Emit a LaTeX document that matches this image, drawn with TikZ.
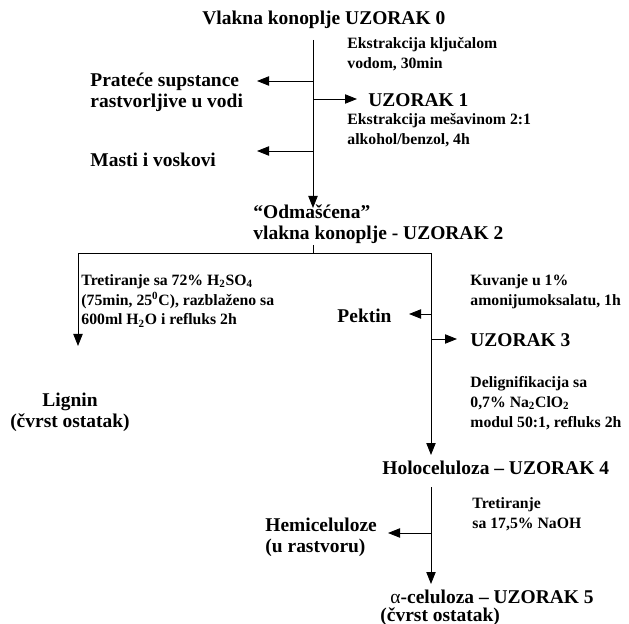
\documentclass[tikz,border=0pt]{standalone}
\usepackage{fontspec}
\setmainfont{Liberation Serif}
\usetikzlibrary{arrows.meta, positioning}

\tikzset{
  arr/.style={-{Triangle[length=9pt,width=7pt]}},
  big/.style={font=\fontsize{14.6}{15.5}\selectfont\bfseries, inner sep=0pt, align=left},
  note/.style={font=\fontsize{11.8}{14.8}\selectfont\bfseries, inner sep=0pt, align=left}
}

\begin{document}
\begin{tikzpicture}[x=0.75pt, y=-0.75pt, line width=0.65pt]
\useasboundingbox (0,0) rectangle (629,624);

% samples and products
\node[big, anchor=west] (uz0) at (202,20) {Vlakna konoplje UZORAK 0};
\node[note, anchor=west] (ex1) at (347,54) {Ekstrakcija ključalom\\vodom, 30min};
\node[big, anchor=west] (prat) at (90,92) {Prateće supstance\\rastvorljive u vodi};
\node[big, anchor=west] (uz1) at (368,100) {UZORAK 1};
\node[note, anchor=west] (ex2) at (347,130) {Ekstrakcija mešavinom 2:1\\alkohol/benzol, 4h};
\node[big, anchor=west] (masti) at (90,160) {Masti i voskovi};
\node[big, anchor=west] (uz2) at (253,224) {“Odmašćena”\\vlakna konoplje - UZORAK 2};
\node[note, anchor=west] (tr1) at (81,301) {Tretiranje sa 72\% H\textsubscript{2}SO\textsubscript{4}\\(75min, 25\textsuperscript{0}C), razblaženo sa\\600ml H\textsubscript{2}O i refluks 2h};
\node[big, align=center] (lignin) at (70,412) {Lignin\\(čvrst ostatak)};
\node[note, anchor=west] (kuv) at (470,292) {Kuvanje u 1\%\\amonijumoksalatu, 1h};
\node[big, anchor=east] (pektin) at (392,316) {Pektin};
\node[big, anchor=west] (uz3) at (470,340) {UZORAK 3};
\node[note, anchor=west] (delig) at (470,403) {Delignifikacija sa\\0,7\% Na\textsubscript{2}ClO\textsubscript{2}\\modul 50:1, refluks 2h};
\node[big, anchor=west] (uz4) at (382,468) {Holoceluloza – UZORAK 4};
\node[note, anchor=west] (tr2) at (472,514) {Tretiranje\\sa 17,5\% NaOH};
\node[big, anchor=west] (hemi) at (265,537) {Hemiceluloze\\(u rastvoru)};
\node[big, anchor=west, font=\fontsize{14.6}{13.5}\selectfont\bfseries] (uz5) at (380,608)
  {\hspace*{7.5pt}{\mdseries α}-celuloza – UZORAK 5\\(čvrst ostatak)};

% junctions and arrow ends
\coordinate (t0) at (313,40);
\coordinate (t1) at (313,208);
\coordinate (j1) at (313,81);
\coordinate (e1) at (257,81);
\coordinate (j2) at (313,99);
\coordinate (e2) at (357,99);
\coordinate (j3) at (313,151);
\coordinate (e3) at (257,151);
\coordinate (s0) at (313,245);
\coordinate (sp) at (313,253);
\coordinate (lg) at (78,346);
\coordinate (ho) at (431,455);
\coordinate (j4) at (431,314);
\coordinate (e4) at (409,314);
\coordinate (j5) at (431,339);
\coordinate (e5) at (457,339);
\coordinate (b0) at (431,487);
\coordinate (b1) at (431,584);
\coordinate (j6) at (431,533);
\coordinate (e6) at (388,533);

% first extraction steps
\draw[arr] (t0) -- (t1);
\draw[arr] (j1) -- (e1);
\draw[arr] (j2) -- (e2);
\draw[arr] (j3) -- (e3);

% split of UZORAK 2
\draw (s0) -- (sp);
\draw[arr] (sp) -| (lg);
\draw[arr] (sp) -| (ho);
\draw[arr] (j4) -- (e4);
\draw[arr] (j5) -- (e5);

% holoceluloza
\draw[arr] (b0) -- (b1);
\draw[arr] (j6) -- (e6);
\end{tikzpicture}
\end{document}
